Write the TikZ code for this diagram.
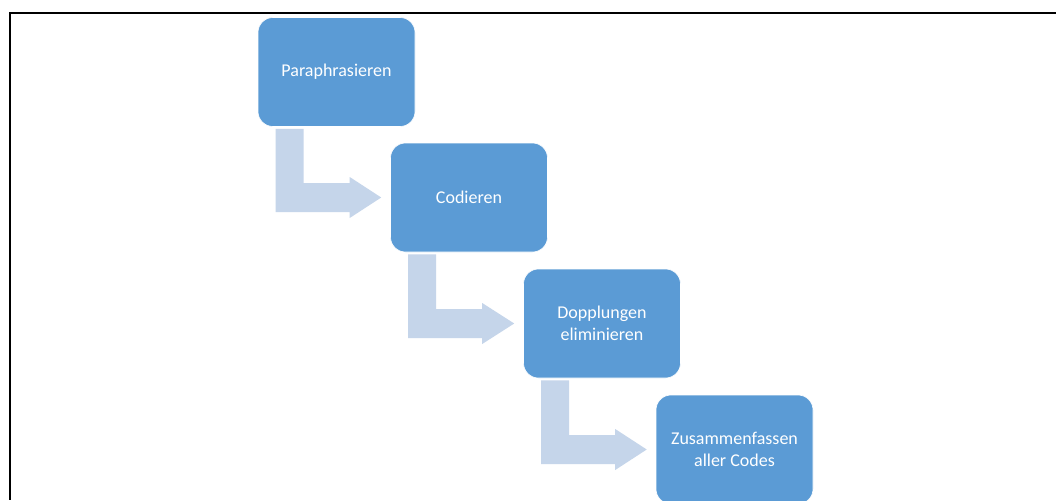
\documentclass[tikz,border=0pt]{standalone}
\usepackage{fontspec}
\setmainfont{Carlito}
\usetikzlibrary{calc}
\definecolor{boxblue}{HTML}{5B9BD5}
\definecolor{arrowblue}{HTML}{C5D5EA}
\tikzset{
  stepbox/.style={rectangle, rounded corners=15pt, fill=boxblue, draw=white, line width=0.6pt,
    minimum width=157pt, minimum height=109pt, inner sep=2pt, text=white, align=center,
    font=\fontsize{18}{22}\selectfont},
  arrowfill/.style={fill=arrowblue},
  frame/.style={line width=2pt, black}
}
\newcommand{\bentarrow}[2]{%
  \fill[arrowfill] let \p1=(#1.south west), \p2=(#2.west) in
    (\x1+18pt,\y1-2pt) -- (\x1+46pt,\y1-2pt) -- (\x1+46pt,\y2+14.5pt) --
    (\x1+92pt,\y2+14.5pt) -- (\x1+92pt,\y2+20.5pt) -- (\x2-9pt,\y2) --
    (\x1+92pt,\y2-20.5pt) -- (\x1+92pt,\y2-14.5pt) -- (\x1+18pt,\y2-14.5pt) -- cycle;}
\begin{document}
\begin{tikzpicture}[x=1pt,y=-1pt]
\useasboundingbox (0,0) rectangle (1056,500);
\clip (0,0) rectangle (1056,500);
\fill[white] (0,0) rectangle (1056,500);
\coordinate (ftl) at (9.7,13.5);
\coordinate (ftr) at (1056,13.5);
\coordinate (fbl) at (9.7,500);
\draw[frame] (ftr) -- (ftl) -- (fbl);
\node[stepbox] (s1) at (336.5,72) {Paraphrasieren};
\node[stepbox] (s2) at (469,197.5) {Codieren};
\node[stepbox] (s3) at (602,323.5) {Dopplungen\\eliminieren};
\node[stepbox] (s4) at (734.5,449.5) {Zusammenfassen\\aller Codes};
\bentarrow{s1}{s2}
\bentarrow{s2}{s3}
\bentarrow{s3}{s4}
\end{tikzpicture}
\end{document}
